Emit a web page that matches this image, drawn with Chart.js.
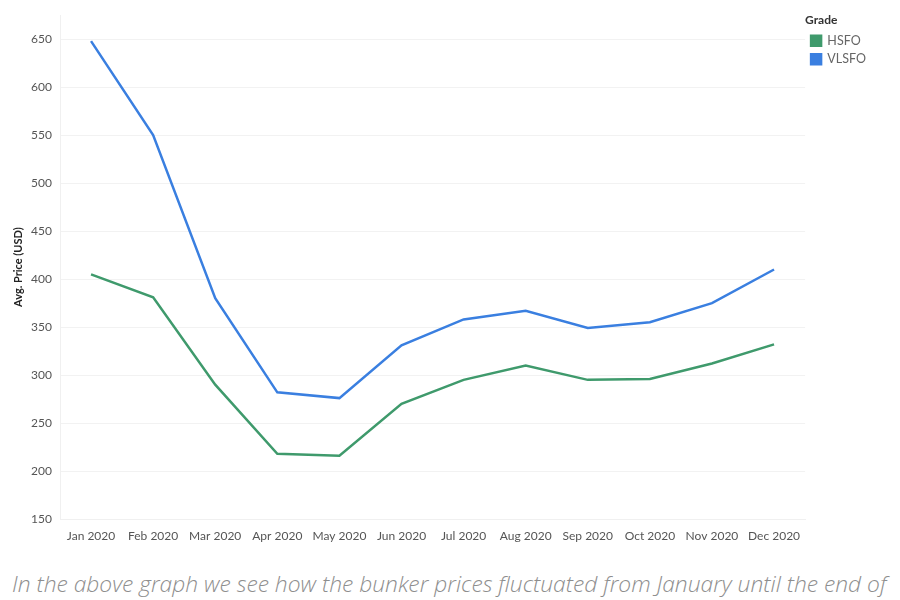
<!DOCTYPE html>
<html>
<head>
<meta charset="utf-8">
<script src="https://cdn.jsdelivr.net/npm/chart.js@4/dist/chart.umd.min.js"></script>
<style>
    html, body { margin: 0; padding: 0; background: #fff; }
    #wrap { position: relative; width: 900px; height: 555px; }
    .caption {
        margin: 0;
        padding: 13px 0 0 12px;
        font-family: "Open Sans", sans-serif;
        font-style: italic;
        font-weight: 300;
        font-size: 22.8px;
        color: #8e8e8e;
        white-space: nowrap;
    }
</style>
</head>
<body>
<div id="wrap"><canvas id="bunkerChart" width="900" height="555"></canvas></div>
<p class="caption">In the above graph we see how the bunker prices fluctuated from January until the end of</p>
<script>
const months = ['Jan 2020', 'Feb 2020', 'Mar 2020', 'Apr 2020', 'May 2020', 'Jun 2020',
    'Jul 2020', 'Aug 2020', 'Sep 2020', 'Oct 2020', 'Nov 2020', 'Dec 2020'];
const hsfo = [405, 381, 290, 218, 216, 270, 295, 310, 295, 296, 312, 332];
const vlsfo = [648, 550, 380, 282, 276, 331, 358, 367, 349, 355, 375, 410];

document.addEventListener('DOMContentLoaded', () => {
    const el = document.getElementById('bunkerChart');
    const tickFont = { family: 'Lato, sans-serif', size: 12 };

    new Chart(el, {
        type: 'line',
        data: {
            labels: months,
            datasets: [
                {
                    label: 'HSFO',
                    data: hsfo,
                    borderColor: '#3f9a6c',
                    backgroundColor: '#3f9a6c',
                    borderWidth: 2.5,
                    pointRadius: 0,
                    tension: 0,
                },
                {
                    label: 'VLSFO',
                    data: vlsfo,
                    borderColor: '#3a7fe0',
                    backgroundColor: '#3a7fe0',
                    borderWidth: 2.5,
                    pointRadius: 0,
                    tension: 0,
                },
            ],
        },
        options: {
            responsive: false,
            animation: false,
            layout: { padding: { top: 6, right: 24, bottom: 0, left: 0 } },
            plugins: {
                tooltip: { enabled: false },
                legend: {
                    position: 'right',
                    align: 'start',
                    title: {
                        display: true,
                        text: 'Grade',
                        position: 'start',
                        color: '#333',
                        font: { family: 'Lato, sans-serif', size: 12, weight: 'bold' },
                        padding: { top: 8, bottom: 0 },
                    },
                    labels: {
                        boxWidth: 10,
                        boxHeight: 10,
                        padding: 6,
                        color: '#666',
                        font: { family: 'Lato, sans-serif', size: 12.5 },
                    },
                },
            },
            scales: {
                x: {
                    offset: true,
                    grid: { display: false },
                    border: { color: '#f0f0f0' },
                    ticks: { color: '#555', font: tickFont, maxRotation: 0, autoSkip: false, padding: 2 },
                    afterFit: (scale) => { scale.height = 36; },
                },
                y: {
                    min: 150,
                    max: 675,
                    grid: { color: '#f2f2f2', drawTicks: false },
                    border: { color: '#f0f0f0' },
                    ticks: { stepSize: 50, includeBounds: false, color: '#555', font: tickFont, padding: 8 },
                    title: {
                        display: true,
                        text: 'Avg. Price (USD)',
                        color: '#222',
                        font: { family: 'Lato, sans-serif', size: 11, weight: 'bold' },
                        padding: { top: 12, bottom: 0 },
                    },
                    afterFit: (scale) => { scale.width = 60; },
                },
            },
        },
    });
});
</script>
</body>
</html>
